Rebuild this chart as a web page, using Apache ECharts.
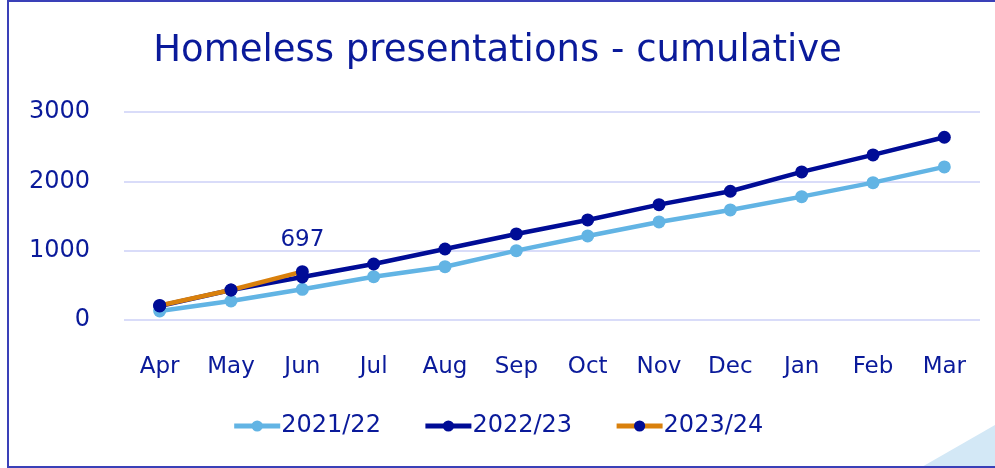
<!DOCTYPE html>
<html>
<head>
<meta charset="utf-8">
<script src="https://cdn.jsdelivr.net/npm/echarts@6/dist/echarts.min.js"></script>
<style>
  body { margin: 0; background: #fff; }
  #main { width: 995px; height: 468px; }
</style>
</head>
<body>
<div id="main"></div>
<script>
// months of the financial year
var months = ['Apr', 'May', 'Jun', 'Jul', 'Aug', 'Sep', 'Oct', 'Nov', 'Dec', 'Jan', 'Feb', 'Mar'];
var fy2122 = [130, 274, 443, 625, 769, 1000, 1212, 1414, 1587, 1779, 1981, 2208];
var fy2223 = [202, 433, 620, 808, 1024, 1241, 1443, 1664, 1857, 2136, 2381, 2636];
var fy2324 = [210, 433, 697];
var yTicks = [0, 1000, 2000, 3000];

var navy = '#0a1a9a';
var font = 'DejaVu Sans';

var chart = echarts.init(document.getElementById('main'));
chart.setOption({
  animation: false,
  textStyle: { fontFamily: font, color: navy },
  title: {
    text: 'Homeless presentations - cumulative',
    left: 'center',
    top: 28,
    textStyle: { fontFamily: font, fontSize: 37, fontWeight: 'normal', color: navy }
  },
  graphic: [
    {
      type: 'polygon',
      shape: { points: [[920, 468], [995, 468], [995, 425]] },
      style: { fill: '#d3e8f6' }
    },
    {
      type: 'rect',
      shape: { x: 8, y: 1, width: 995, height: 466 },
      style: { fill: 'none', stroke: '#3a40b8', lineWidth: 2 }
    }
  ],
  legend: {
    bottom: 25,
    left: 'center',
    itemWidth: 46,
    itemHeight: 14,
    itemGap: 42,
    lineStyle: { width: 5 },
    textStyle: { fontFamily: font, fontSize: 24, color: navy, padding: [0, 0, 0, -4] },
    data: ['2021/22', '2022/23', '2023/24']
  },
  grid: { left: 124, right: 15, top: 112, bottom: 148 },
  xAxis: {
    type: 'category',
    data: months,
    axisLine: { show: false },
    axisTick: { show: false },
    axisLabel: { fontSize: 23, color: navy, margin: 36, fontFamily: font }
  },
  yAxis: {
    type: 'value',
    min: yTicks[0],
    max: yTicks[yTicks.length - 1],
    interval: 1000,
    axisLabel: {
      fontSize: 24, color: navy, margin: 34, fontFamily: font,
      formatter: function (v) { return String(v); }
    },
    splitLine: { lineStyle: { color: '#cdd1f7', width: 1.5 } }
  },
  series: [
    {
      name: '2021/22',
      type: 'line',
      data: fy2122,
      symbol: 'circle',
      symbolSize: 13,
      lineStyle: { color: '#62b4e4', width: 4.5 },
      itemStyle: { color: '#62b4e4' },
      z: 2
    },
    {
      name: '2022/23',
      type: 'line',
      data: fy2223,
      symbol: 'circle',
      symbolSize: 13,
      lineStyle: { color: '#000c96', width: 4.5 },
      itemStyle: { color: '#000c96' },
      z: 3
    },
    {
      name: '2023/24',
      type: 'line',
      data: fy2324,
      symbol: 'circle',
      symbolSize: 13,
      lineStyle: { color: '#d9800c', width: 4.5 },
      itemStyle: { color: '#000c96' },
      z: 4,
      label: {
        show: true,
        position: 'top',
        distance: 14,
        fontSize: 23,
        color: navy,
        fontFamily: font,
        formatter: function (p) { return p.dataIndex === fy2324.length - 1 ? p.value : ''; }
      }
    }
  ]
});
</script>
</body>
</html>
